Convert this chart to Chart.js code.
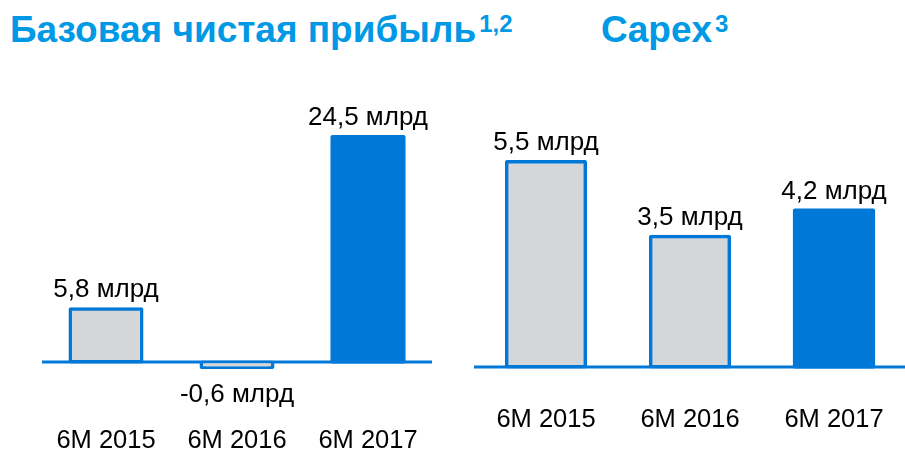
<!DOCTYPE html>
<html>
<head>
<meta charset="utf-8">
<script src="https://cdn.jsdelivr.net/npm/chart.js@4.4.1/dist/chart.umd.min.js"></script>
<style>
  html, body { margin: 0; padding: 0; background: #fff; }
  body { width: 905px; height: 449px; position: relative; overflow: hidden; font-family: "Liberation Sans", Arial, sans-serif; }
  .title { position: absolute; top: 11px; font-weight: bold; font-size: 37px; line-height: 37px; color: #0099e5; white-space: nowrap; }
  .title sup { font-size: 24px; position: relative; top: -10px; vertical-align: baseline; margin-left: 3px; }
  #c1 { position: absolute; left: 0; top: 0; }
  #c2 { position: absolute; left: 450px; top: 0; }
</style>
</head>
<body>
<div class="title" style="left:10px;">Базовая чистая прибыль<sup>1,2</sup></div>
<div class="title" style="left:601px;">Capex<sup>3</sup></div>
<canvas id="c1" width="452" height="449"></canvas>
<canvas id="c2" width="456" height="449"></canvas>
<script>
// ---- data ----
const categories = ['6M 2015', '6M 2016', '6M 2017'];
const profitValues = [5.8, -0.6, 24.5];
const capexValues = [5.5, 3.5, 4.2];
const unitLabel = 'млрд';

// ---- styles ----
const BLUE = '#0078d7';
const GREY = '#d5d6d8';
const FONT = '"Liberation Sans", Arial, sans-serif';
const INFLATE = 1.5;

function fmt(v) { return v.toFixed(1).replace('.', ',') + ' ' + unitLabel; }

const valueLabelPlugin = {
  id: 'valueLabels',
  afterDatasetsDraw(chart) {
    const ctx = chart.ctx;
    const meta = chart.getDatasetMeta(0);
    const data = chart.data.datasets[0].data;
    ctx.save();
    ctx.fillStyle = '#000';
    ctx.font = '26px ' + FONT;
    ctx.textAlign = 'center';
    ctx.textBaseline = 'alphabetic';
    meta.data.forEach((bar, i) => {
      const v = data[i];
      if (v >= 0) ctx.fillText(fmt(v), bar.x, bar.y - 11.5);
      else ctx.fillText(fmt(v), bar.x, bar.y + 34.5);
    });
    ctx.restore();
  }
};

const baselinePlugin = {
  id: 'baseline',
  beforeDatasetsDraw(chart, args, opts) {
    const ctx = chart.ctx;
    const y = chart.scales.y.getPixelForValue(0);
    ctx.save();
    ctx.strokeStyle = BLUE;
    ctx.lineWidth = 3;
    ctx.beginPath();
    ctx.moveTo(opts.x1, y);
    ctx.lineTo(opts.x2, y);
    ctx.stroke();
    ctx.restore();
  }
};

function makeChart(id, values, cfg) {
  return new Chart(document.getElementById(id), {
    type: 'bar',
    data: {
      labels: categories,
      datasets: [{
        data: values,
        backgroundColor: values.map((v, i) => i === values.length - 1 ? BLUE : GREY),
        borderColor: BLUE,
        borderWidth: values.map((v, i) => i === values.length - 1 ? 0 : 3.5),
        borderSkipped: false,
        borderRadius: 2,
        inflateAmount: INFLATE,
        barPercentage: 0.55,
        categoryPercentage: 1
      }]
    },
    options: {
      responsive: false,
      animation: false,
      events: [],
      layout: { padding: { left: cfg.padLeft, right: cfg.padRight, top: cfg.padTop, bottom: 0 } },
      plugins: {
        legend: { display: false },
        tooltip: { enabled: false },
        title: { display: false },
        baseline: { x1: cfg.lineX1, x2: cfg.lineX2 }
      },
      scales: {
        x: {
          grid: { display: false, drawTicks: false },
          border: { display: false },
          ticks: { color: '#000', font: { family: FONT, size: 25.5 }, padding: cfg.tickPad, maxRotation: 0, autoSkip: false },
          afterFit(scale) { scale.height = cfg.axisHeight; }
        },
        y: {
          display: false,
          min: cfg.min,
          max: cfg.max
        }
      }
    },
    plugins: [baselinePlugin, valueLabelPlugin]
  });
}

makeChart('c1', profitValues, {
  padLeft: 40.5, padRight: 18.5, padTop: 104.4, axisHeight: 27.2, tickPad: 3.5,
  min: -6.5, max: 28, lineX1: 42, lineX2: 432
});
makeChart('c2', capexValues, {
  padLeft: 24, padRight: 0, padTop: 124.1, axisHeight: 63.3, tickPad: 18.5,
  min: -0.5, max: 6.5, lineX1: 24, lineX2: 456
});
</script>
</body>
</html>
